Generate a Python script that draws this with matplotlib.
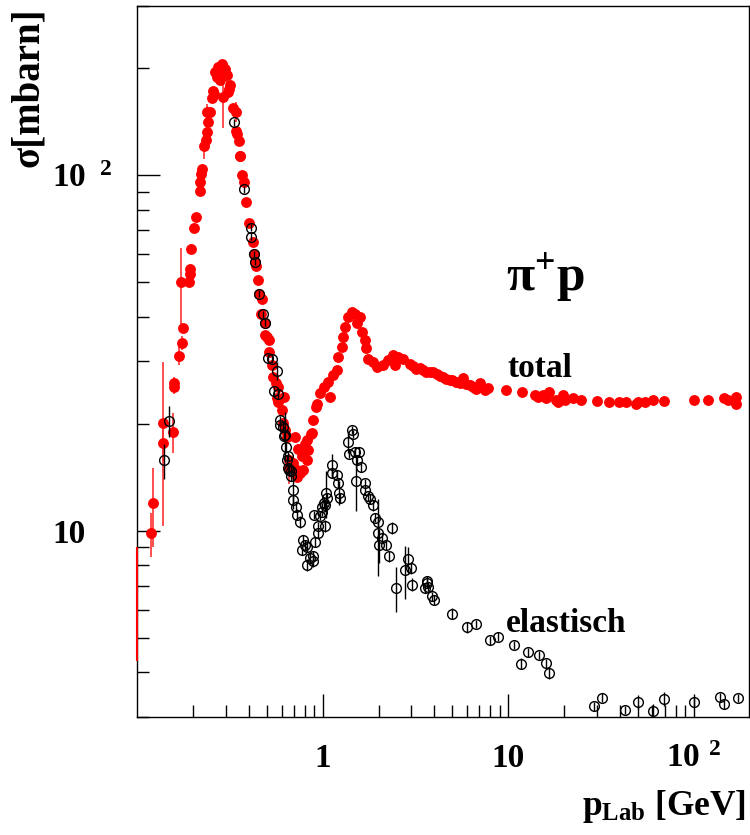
import matplotlib
matplotlib.use("Agg")
import matplotlib.pyplot as plt
from matplotlib.ticker import LogLocator, NullFormatter

# pi+ p Wirkungsquerschnitt, total (rot) und elastisch (offen)
tot_p = [0.119, 0.121, 0.137, 0.137, 0.156, 0.158, 0.158, 0.167, 0.172, 0.174,
         0.176, 0.189, 0.192, 0.193, 0.195, 0.203, 0.208, 0.217, 0.219, 0.221,
         0.223, 0.228, 0.235, 0.238, 0.239, 0.241, 0.248, 0.253, 0.256, 0.258,
         0.264, 0.269, 0.274, 0.280, 0.286, 0.289, 0.292, 0.298, 0.304, 0.307,
         0.311, 0.317, 0.327, 0.340, 0.342, 0.345, 0.354, 0.356, 0.359, 0.369,
         0.374, 0.387, 0.398, 0.420, 0.427, 0.429, 0.436, 0.445, 0.454, 0.466,
         0.470, 0.489, 0.489, 0.499, 0.510, 0.516, 0.531, 0.542, 0.558, 0.565,
         0.577, 0.577, 0.602, 0.609, 0.619, 0.627, 0.640, 0.655, 0.661, 0.695,
         0.712, 0.725, 0.725, 0.740, 0.755, 0.770, 0.786, 0.800, 0.820, 0.820,
         0.837, 0.865, 0.873, 0.890, 0.920, 0.928, 0.967, 1.01, 1.07, 1.09,
         1.14, 1.19, 1.21, 1.27, 1.28, 1.32, 1.37, 1.43, 1.49, 1.54,
         1.59, 1.62, 1.69, 1.72, 1.76, 1.87, 1.95, 2.12, 2.26, 2.40,
         2.45, 2.55, 2.71, 2.95, 3.05, 3.20, 3.35, 3.48, 3.60, 3.78,
         3.95, 4.11, 4.30, 4.46, 4.65, 4.84, 5.00, 5.26, 5.50, 5.71,
         5.95, 6.20, 6.50, 6.74, 7.03, 7.50, 7.79, 9.78, 11.9, 13.9,
         14.5, 15.4, 16.0, 16.7, 18.2, 18.6, 19.8, 20.2, 22.3, 24.8,
         30.0, 35.0, 39.8, 43.2, 49.0, 49.9, 54.4, 60.2, 69.4, 100.5,
         120, 146, 153, 169, 170]
tot_sig = [9.85, 12.0, 17.7, 20.1, 19.0, 25.4, 26.0, 31.0, 50.0, 33.8,
           37.2, 50.0, 52.7, 54.4, 62.2, 71.2, 76.2, 90.6, 96.0, 101,
           104, 121, 126, 132, 151, 141, 151, 165, 173, 169,
           195, 189, 202, 186, 205, 166, 191, 199, 191, 171,
           175, 179, 155, 133, 151, 131, 125, 113, 113, 100,
           96.0, 84.0, 73.6, 65.0, 59.9, 57.1, 55.5, 50.8, 46.5, 40.8,
           45.0, 38.5, 35.5, 35.1, 31.9, 34.4, 29.3, 27.1, 26.0, 23.6,
           25.4, 23.1, 21.9, 20.1, 23.8, 19.2, 18.4, 15.0, 15.8, 15.5,
           18.4, 14.2, 14.8, 17.0, 14.5, 16.2, 14.8, 17.5, 15.8, 18.0,
           16.9, 18.7, 18.8, 20.5, 22.3, 22.8, 24.4, 25.4, 26.3, 23.8,
           27.4, 28.3, 30.9, 32.9, 35.1, 37.5, 39.9, 41.3, 40.8, 38.3,
           39.9, 36.3, 34.4, 32.6, 30.5, 29.9, 28.9, 29.3, 30.2, 31.2,
           29.3, 30.9, 30.5, 29.5, 29.0, 28.6, 28.7, 28.3, 28.0, 28.0,
           27.9, 27.7, 27.3, 27.0, 26.8, 26.6, 26.5, 26.3, 26.1, 26.9,
           25.9, 25.7, 25.4, 25.1, 26.0, 24.9, 25.3, 24.9, 24.5, 24.1,
           23.8, 24.1, 23.6, 24.6, 23.3, 23.1, 24.1, 23.3, 23.6, 23.3,
           23.2, 23.1, 23.1, 23.1, 22.8, 23.1, 23.1, 23.3, 23.2, 23.3,
           23.4, 23.7, 23.4, 23.8, 22.8]
tot_err = [1.4, 3.0, 2.0, 9.8, 2.4, 1.2, 1.0, 1.8, 12.5, 1.5,
           1.0, 1.5, 1.5, 1.5, 2.0, 2.0, 2.0, 2.5, 3.0, 3.0,
           3.0, 10, 3, 3, 8, 3, 3, 4, 4, 4,
           4, 4, 4, 4, 4, 30, 4, 4, 15, 4,
           4, 4, 4, 3, 10, 3, 3, 3, 3, 2.5,
           2.5, 2.0, 2.0, 1.5, 1.5, 1.5, 1.5, 1.2, 1.2, 1.0,
           1.0, 1.0, 1.0, 1.0, 0.8, 0.8, 0.8, 0.8, 0.7, 0.7,
           0.7, 0.7, 0.6, 0.6, 0.6, 0.6, 0.6, 1.5, 0.5, 0.5,
           0.5, 0.5, 0.5, 0.5, 0.5, 0.5, 0.5, 0.5, 0.5, 0.5,
           0.5, 0.5, 0.5, 0.6, 0.6, 0.6, 0.6, 0.6, 0.6, 0.6,
           0.7, 0.7, 0.8, 0.8, 0.8, 0.9, 0.9, 1.0, 1.0, 0.9,
           0.9, 0.8, 0.8, 0.8, 0.7, 0.7, 0.7, 0.6, 0.6, 0.6,
           0.6, 0.6, 0.6, 0.5, 0.5, 0.5, 0.5, 0.5, 0.5, 0.5,
           0.5, 0.5, 0.4, 0.4, 0.4, 0.4, 0.4, 0.4, 0.4, 0.4,
           0.4, 0.4, 0.4, 0.4, 0.4, 0.4, 0.4, 0.3, 0.3, 0.3,
           0.3, 0.3, 0.3, 0.3, 0.3, 0.3, 0.3, 0.3, 0.3, 0.3,
           0.2, 0.2, 0.2, 0.2, 0.2, 0.2, 0.2, 0.2, 0.2, 0.5,
           0.2, 0.2, 0.2, 0.2, 0.8]

# Punkt am linken Rand, nur der Fehlerbalken ist im Bild
edge_p = [0.1]
edge_sig = [6.3]
edge_err = [[2.0], [2.7]]

el_p = [0.140, 0.149, 0.332, 0.377, 0.408, 0.411, 0.427, 0.429, 0.454, 0.475,
        0.489, 0.506, 0.531, 0.547, 0.570, 0.573, 0.589, 0.589, 0.614, 0.621,
        0.627, 0.632, 0.640, 0.653, 0.653, 0.661, 0.673, 0.678, 0.695, 0.695,
        0.718, 0.730, 0.755, 0.771, 0.786, 0.803, 0.820, 0.820, 0.854, 0.884,
        0.890, 0.898, 0.909, 0.947, 0.947, 0.967, 0.988, 0.995, 1.01, 1.03,
        1.03, 1.04, 1.05, 1.12, 1.12, 1.19, 1.21, 1.22, 1.24, 1.37,
        1.39, 1.43, 1.45, 1.49, 1.51, 1.54, 1.57, 1.61, 1.69, 1.70,
        1.76, 1.80, 1.87, 1.91, 1.99, 1.99, 2.02, 2.10, 2.19, 2.28,
        2.35, 2.48, 2.77, 2.89, 3.01, 3.03, 3.55, 3.63, 3.66, 3.70,
        3.89, 3.99, 4.97, 5.98, 6.74, 8.0, 8.77, 10.7, 11.7, 12.8,
        14.7, 16.0, 16.7, 29.0, 32.1, 42.7, 49.9, 60.2, 69.4, 100.5,
        139, 146, 174]
el_sig = [15.8, 20.4, 141, 91.3, 71.3, 67.2, 59.9, 57.1, 46.5, 40.6,
          38.5, 30.7, 30.5, 24.7, 28.2, 24.2, 20.5, 19.8, 19.6, 18.5,
          18.6, 17.2, 15.8, 16.2, 15.0, 14.8, 14.7, 14.3, 13.0, 12.2,
          11.7, 11.1, 10.6, 8.84, 9.44, 9.14, 9.03, 8.02, 8.38, 8.47,
          8.20, 11.1, 9.32, 9.85, 10.3, 11.0, 11.7, 11.3, 11.96, 11.8,
          10.3, 12.8, 12.4, 15.3, 14.5, 14.4, 13.6, 12.8, 12.4, 17.8,
          16.5, 19.2, 18.7, 16.7, 13.8, 15.8, 16.7, 15.1, 13.6, 13.0,
          12.5, 12.3, 11.8, 10.9, 10.6, 9.85, 9.14, 9.54, 9.14, 8.47,
          10.2, 6.90, 7.74, 8.32, 7.86, 7.05, 6.90, 7.12, 7.24, 6.97,
          6.54, 6.40, 5.85, 5.35, 5.48, 4.92, 5.04, 4.77, 4.23, 4.55,
          4.48, 4.24, 3.99, 3.21, 3.39, 3.14, 3.31, 3.11, 3.37, 3.31,
          3.41, 3.25, 3.39]
el_err = [1.8, 2.0, 3, 2, 1.5, 1.5, 1.2, 1.2, 1.0, 0.9,
          0.9, 0.8, 0.8, 0.7, 1.7, 0.7, 0.6, 0.6, 0.6, 0.6,
          3.0, 0.6, 0.5, 0.5, 0.5, 0.5, 0.5, 0.5, 1.5, 0.4,
          0.4, 0.4, 0.4, 0.3, 0.3, 0.3, 0.3, 0.3, 0.3, 0.3,
          0.3, 0.3, 0.3, 0.3, 0.3, 0.3, 0.3, 0.3, 0.4, 0.4,
          0.4, 1.9, 0.4, 1.2, 0.4, 0.4, 0.4, 1.0, 0.4, 1.2,
          0.5, 0.5, 0.5, 0.5, 2.4, 0.5, 0.5, 0.5, 0.4, 0.4,
          0.4, 0.4, 0.4, 0.3, 0.3, 2.4, 1.0, 0.3, 0.3, 0.3,
          0.4, 1.0, 1.3, 0.7, 0.3, 0.3, 0.2, 0.2, 0.2, 0.2,
          0.2, 0.2, 0.2, 0.2, 0.15, 0.15, 0.15, 0.12, 0.15, 0.12,
          0.12, 0.12, 0.15, 0.1, 0.1, 0.08, 0.15, 0.15, 0.15, 0.1,
          0.08, 0.1, 0.08]

x_ticks = [1, 10, 100]
x_labels = ['1', '10', r'$10^{\;\,2}$']
y_ticks = [10, 100]
y_labels = ['10', r'$10^{\;\;\,2}$']

plt.rcParams['font.family'] = ['Liberation Serif', 'DejaVu Serif']
plt.rcParams['font.weight'] = 'bold'
plt.rcParams['axes.labelweight'] = 'bold'
plt.rcParams['mathtext.fontset'] = 'custom'
plt.rcParams['mathtext.rm'] = 'Liberation Serif:bold'
plt.rcParams['mathtext.bf'] = 'Liberation Serif:bold'
plt.rcParams['mathtext.it'] = 'Liberation Serif:bold'
plt.rcParams['mathtext.default'] = 'bf'

fig = plt.figure(figsize=(7.5, 8.35), dpi=100)
ax = fig.add_axes([137.3 / 750, 1 - 716.7 / 835, 611.7 / 750, 711 / 835])

ax.errorbar(edge_p, edge_sig, yerr=edge_err, fmt='none', ecolor='red',
            elinewidth=1.5, zorder=4, clip_on=False)
ax.errorbar(tot_p, tot_sig, yerr=tot_err, fmt='o', color='red', ms=6.8,
            mec='red', ecolor='#ff3030', elinewidth=1.2, capsize=0, zorder=2)
ax.errorbar(el_p, el_sig, yerr=el_err, fmt='o', mfc='none', mec='black',
            mew=1.0, ms=7, ecolor='black', elinewidth=1.0, capsize=0, zorder=3)

ax.set_xscale('log')
ax.set_yscale('log')
ax.set_xlim(0.1, 199)
ax.set_ylim(3, 300)

ax.set_xticks(x_ticks)
ax.set_xticklabels(x_labels, fontsize=24, fontweight='bold', va='baseline')
ax.set_yticks(y_ticks)
ax.set_yticklabels(y_labels, fontsize=24, fontweight='bold', ha='left')
ax.xaxis.set_minor_locator(LogLocator(base=10, subs=range(2, 10), numticks=20))
ax.yaxis.set_minor_locator(LogLocator(base=10, subs=range(2, 10), numticks=20))
ax.xaxis.set_minor_formatter(NullFormatter())
ax.yaxis.set_minor_formatter(NullFormatter())

ax.tick_params(which='both', direction='in', top=False, right=False, width=1.0)
ax.tick_params(which='major', length=16.5)
ax.tick_params(which='minor', length=8.6)
ax.tick_params(axis='x', which='major', pad=36)
ax.tick_params(axis='y', which='major', pad=61.4)
for s in ax.spines.values():
    s.set_linewidth(1.0)

ax.set_xlabel(r'$\mathbf{p_{Lab}}$ [GeV]', fontsize=25.5, fontweight='bold',
              loc='right')
ax.xaxis.set_label_coords(0.995, -0.1000)
ax.set_ylabel('σ[mbarn]', fontsize=28, fontweight='bold', loc='top')
ax.yaxis.set_label_coords(-0.148, 0.997)

ax.text(0.603, 0.600, r'$\pi^{+}$p', transform=ax.transAxes, fontsize=37,
        fontweight='bold', ha='left', va='baseline')
ax.text(0.606, 0.478, 'total', transform=ax.transAxes, fontsize=24,
        fontweight='bold', ha='left', va='baseline')
ax.text(0.603, 0.1196, 'elastisch', transform=ax.transAxes, fontsize=24,
        fontweight='bold', ha='left', va='baseline')

fig.savefig('out.png', dpi=100)
